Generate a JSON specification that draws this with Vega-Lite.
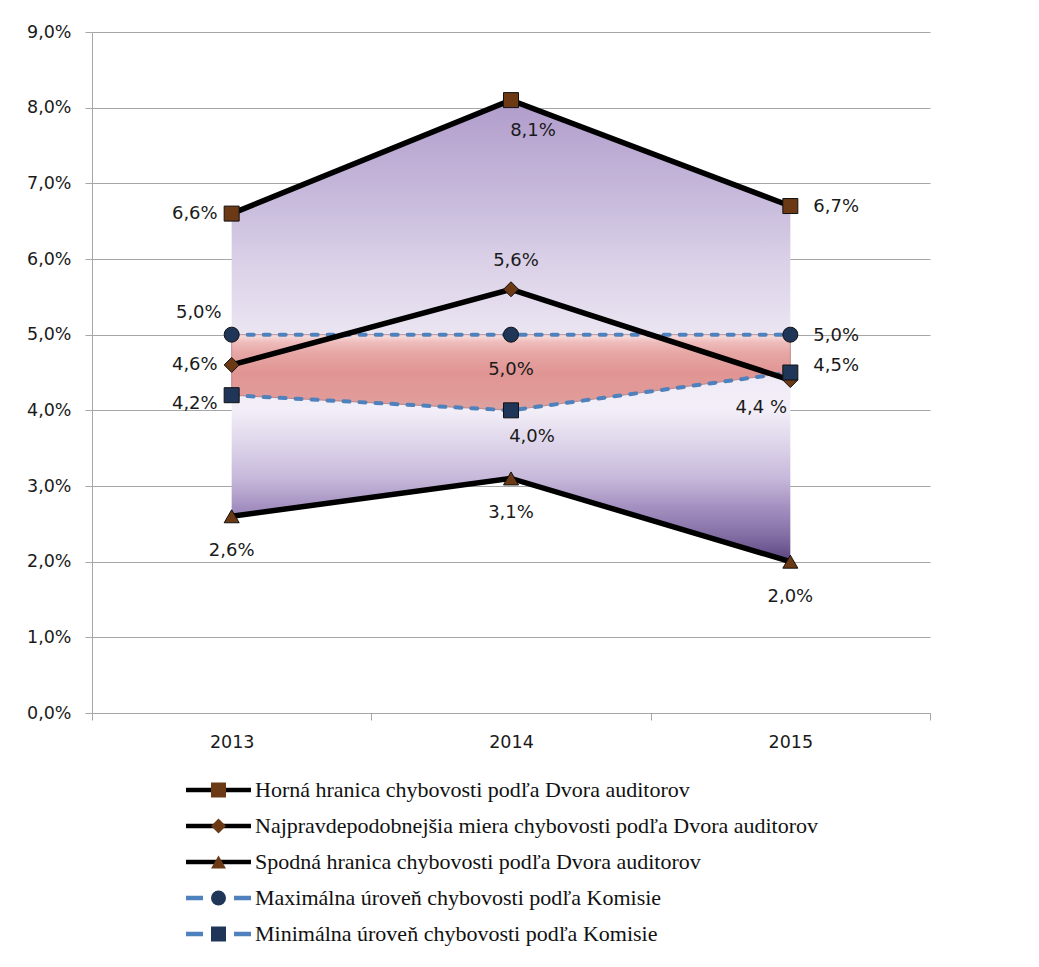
{
  "$schema": "https://vega.github.io/schema/vega-lite/v6.json",
  "width": 838,
  "height": 681,
  "autosize": "none",
  "padding": {"left": 92, "top": 32, "right": 109, "bottom": 254},
  "background": "white",
  "config": {
    "view": {"stroke": null},
    "axis": {"labelFont": "DejaVu Sans", "labelFontSize": 17.5, "labelColor": "#1a1a1a", "domainColor": "#a6a6a6", "tickColor": "#a6a6a6", "gridColor": "#a6a6a6", "tickSize": 7, "title": null},
    "text": {"font": "DejaVu Sans", "fontSize": 18, "color": "#1a1a1a", "baseline": "middle"}
  },
  "datasets": {
    "wide": [
      {"year": "2013", "upper": 6.6, "lower": 2.6, "maxK": 5.0, "minK": 4.2},
      {"year": "2014", "upper": 8.1, "lower": 3.1, "maxK": 5.0, "minK": 4.0},
      {"year": "2015", "upper": 6.7, "lower": 2.0, "maxK": 5.0, "minK": 4.5}
    ],
    "long": [
      {"series": "Horná hranica chybovosti podľa Dvora auditorov", "code": "H", "order": 1, "year": "2013", "value": 6.6, "label": "6,6%"},
      {"series": "Horná hranica chybovosti podľa Dvora auditorov", "code": "H", "order": 1, "year": "2014", "value": 8.1, "label": "8,1%"},
      {"series": "Horná hranica chybovosti podľa Dvora auditorov", "code": "H", "order": 1, "year": "2015", "value": 6.7, "label": "6,7%"},
      {"series": "Najpravdepodobnejšia miera chybovosti podľa Dvora auditorov", "code": "N", "order": 2, "year": "2013", "value": 4.6, "label": "4,6%"},
      {"series": "Najpravdepodobnejšia miera chybovosti podľa Dvora auditorov", "code": "N", "order": 2, "year": "2014", "value": 5.6, "label": "5,6%"},
      {"series": "Najpravdepodobnejšia miera chybovosti podľa Dvora auditorov", "code": "N", "order": 2, "year": "2015", "value": 4.4, "label": "4,4 %"},
      {"series": "Spodná hranica chybovosti podľa Dvora auditorov", "code": "S", "order": 3, "year": "2013", "value": 2.6, "label": "2,6%"},
      {"series": "Spodná hranica chybovosti podľa Dvora auditorov", "code": "S", "order": 3, "year": "2014", "value": 3.1, "label": "3,1%"},
      {"series": "Spodná hranica chybovosti podľa Dvora auditorov", "code": "S", "order": 3, "year": "2015", "value": 2.0, "label": "2,0%"},
      {"series": "Maximálna úroveň chybovosti podľa Komisie", "code": "MX", "order": 4, "year": "2013", "value": 5.0, "label": "5,0%"},
      {"series": "Maximálna úroveň chybovosti podľa Komisie", "code": "MX", "order": 4, "year": "2014", "value": 5.0, "label": "5,0%"},
      {"series": "Maximálna úroveň chybovosti podľa Komisie", "code": "MX", "order": 4, "year": "2015", "value": 5.0, "label": "5,0%"},
      {"series": "Minimálna úroveň chybovosti podľa Komisie", "code": "MN", "order": 5, "year": "2013", "value": 4.2, "label": "4,2%"},
      {"series": "Minimálna úroveň chybovosti podľa Komisie", "code": "MN", "order": 5, "year": "2014", "value": 4.0, "label": "4,0%"},
      {"series": "Minimálna úroveň chybovosti podľa Komisie", "code": "MN", "order": 5, "year": "2015", "value": 4.5, "label": "4,5%"}
    ]
  },
  "encoding": {
    "x": {"field": "year", "type": "ordinal",
      "scale": {"type": "band", "paddingInner": 0, "paddingOuter": 0},
      "axis": {"labelAngle": 0, "tickBand": "extent", "labelPadding": 13, "grid": false}},
    "y": {"type": "quantitative",
      "scale": {"domain": [0, 9], "nice": false},
      "axis": {"values": [0, 1, 2, 3, 4, 5, 6, 7, 8, 9], "grid": true, "labelPadding": 14,
        "labelExpr": "replace(format(datum.value, '.1f'), '.', ',') + '%'"}}
  },
  "layer": [
    {
      "data": {"name": "wide"},
      "mark": {"type": "area", "fill": {"gradient": "linear", "x1": 0, "y1": 0, "x2": 0, "y2": 1,
        "stops": [
          {"offset": 0, "color": "#b09ccb"},
          {"offset": 0.245, "color": "#cbbfde"},
          {"offset": 0.346, "color": "#dad0e7"},
          {"offset": 0.509, "color": "#ebe5f2"},
          {"offset": 0.67, "color": "#f3eff8"},
          {"offset": 0.76, "color": "#d9cfe7"},
          {"offset": 0.82, "color": "#c6b8da"},
          {"offset": 0.88, "color": "#a591c1"},
          {"offset": 0.94, "color": "#8570a6"},
          {"offset": 1, "color": "#594480"}
        ]}},
      "encoding": {"y": {"field": "upper"}, "y2": {"field": "lower"}}
    },
    {
      "data": {"name": "wide"},
      "mark": {"type": "area", "stroke": "#b07a78", "strokeWidth": 0.8, "fill": {"gradient": "linear", "x1": 0, "y1": 0, "x2": 0, "y2": 1,
        "stops": [
          {"offset": 0, "color": "#f7e2e2"},
          {"offset": 0.1, "color": "#eebcbb"},
          {"offset": 0.25, "color": "#e6a6a4"},
          {"offset": 0.5, "color": "#e09593"},
          {"offset": 0.8, "color": "#e19a98"},
          {"offset": 1, "color": "#dba3a1"}
        ]}},
      "encoding": {"y": {"field": "maxK"}, "y2": {"field": "minK"}}
    },
    {
      "data": {"name": "long"},
      "transform": [{"filter": "datum.code == 'MX' || datum.code == 'MN'"}],
      "mark": {"type": "line", "strokeWidth": 4, "strokeDash": [6, 10], "strokeCap": "round"},
      "encoding": {
        "y": {"field": "value"},
        "stroke": {"field": "series", "type": "nominal",
          "scale": {"domain": ["Horná hranica chybovosti podľa Dvora auditorov", "Najpravdepodobnejšia miera chybovosti podľa Dvora auditorov", "Spodná hranica chybovosti podľa Dvora auditorov", "Maximálna úroveň chybovosti podľa Komisie", "Minimálna úroveň chybovosti podľa Komisie"],
            "range": ["#000000", "#000000", "#000000", "#4f81bd", "#4f81bd"]},
          "legend": {"orient": "none", "legendX": 115.5, "legendY": 747, "title": null, "padding": 0,
            "symbolType": "M-4.33,0H4.33", "symbolSize": 225, "symbolStrokeWidth": 4.5, "symbolFillColor": "transparent", "symbolOpacity": 1,
            "labelFont": "Liberation Serif", "labelFontSize": 22, "labelColor": "#111111", "labelOffset": 25.5, "labelLimit": 0,
            "rowPadding": 14, "zindex": 1,
            "encode": {"symbols": {"update": {"strokeDash": {"signal": "indexof(datum.value, 'Komisie') >= 0 ? [17, 31] : [1, 0]"}, "opacity": {"value": 1}}}}}
        }
      }
    },
    {
      "data": {"name": "long"},
      "transform": [{"filter": "datum.code == 'H' || datum.code == 'N' || datum.code == 'S'"}],
      "mark": {"type": "line", "strokeWidth": 5.5},
      "encoding": {
        "y": {"field": "value"},
        "stroke": {"field": "series", "type": "nominal"}
      }
    },
    {
      "data": {"name": "long"},
      "mark": {"type": "point", "filled": true, "size": 225, "stroke": "#111111", "strokeWidth": 1, "opacity": 1},
      "encoding": {
        "y": {"field": "value"},
        "shape": {"field": "series", "type": "nominal", "sort": {"field": "order", "op": "min"},
          "scale": {"range": ["square", "diamond", "triangle-up", "circle", "square"]},
          "legend": {"orient": "none", "legendX": 115.5, "legendY": 747, "title": null, "padding": 0,
            "symbolSize": 225, "labelOpacity": 0, "labelFont": "Liberation Serif", "labelFontSize": 22, "labelOffset": 25.5, "labelLimit": 0,
            "rowPadding": 14, "zindex": 2, "symbolStrokeColor": "#111111", "symbolStrokeWidth": 1, "symbolOpacity": 1}},
        "fill": {"field": "series", "type": "nominal", "sort": {"field": "order", "op": "min"},
          "scale": {"range": ["#6b3a14", "#6b3a14", "#6b3a14", "#1f3659", "#1f3659"]},
          "legend": {"orient": "none", "legendX": 115.5, "legendY": 747, "title": null, "padding": 0,
            "symbolSize": 225, "labelOpacity": 0, "labelFont": "Liberation Serif", "labelFontSize": 22, "labelOffset": 25.5, "labelLimit": 0,
            "rowPadding": 14, "zindex": 2, "symbolStrokeColor": "#111111", "symbolStrokeWidth": 1, "symbolOpacity": 1}}
      }
    },
    {
      "data": {"name": "long"},
      "transform": [{"filter": "datum.year == '2013' && (datum.code == 'H' || datum.code == 'N')"}],
      "mark": {"type": "text", "align": "right", "dx": -14, "dy": 0},
      "encoding": {"y": {"field": "value"}, "text": {"field": "label"}}
    },
    {
      "data": {"name": "long"},
      "transform": [{"filter": "datum.year == '2013' && datum.code == 'MN'"}],
      "mark": {"type": "text", "align": "right", "dx": -14, "dy": 9},
      "encoding": {"y": {"field": "value"}, "text": {"field": "label"}}
    },
    {
      "data": {"name": "long"},
      "transform": [{"filter": "datum.year == '2013' && datum.code == 'MX'"}],
      "mark": {"type": "text", "align": "right", "dx": -10, "dy": -22},
      "encoding": {"y": {"field": "value"}, "text": {"field": "label"}}
    },
    {
      "data": {"name": "long"},
      "transform": [{"filter": "datum.year == '2015' && (datum.code == 'H' || datum.code == 'MX')"}],
      "mark": {"type": "text", "align": "left", "dx": 23, "dy": 1},
      "encoding": {"y": {"field": "value"}, "text": {"field": "label"}}
    },
    {
      "data": {"name": "long"},
      "transform": [{"filter": "datum.year == '2015' && datum.code == 'MN'"}],
      "mark": {"type": "text", "align": "left", "dx": 23, "dy": -7},
      "encoding": {"y": {"field": "value"}, "text": {"field": "label"}}
    },
    {
      "data": {"name": "long"},
      "transform": [{"filter": "datum.code == 'S' || (datum.year == '2014' && datum.code == 'MX')"}],
      "mark": {"type": "text", "align": "center", "dx": 0, "dy": 35},
      "encoding": {"y": {"field": "value"}, "text": {"field": "label"}}
    },
    {
      "data": {"name": "long"},
      "transform": [{"filter": "datum.year == '2014' && datum.code == 'H'"}],
      "mark": {"type": "text", "align": "center", "dx": 22, "dy": 31},
      "encoding": {"y": {"field": "value"}, "text": {"field": "label"}}
    },
    {
      "data": {"name": "long"},
      "transform": [{"filter": "datum.year == '2014' && datum.code == 'MN'"}],
      "mark": {"type": "text", "align": "center", "dx": 21, "dy": 27},
      "encoding": {"y": {"field": "value"}, "text": {"field": "label"}}
    },
    {
      "data": {"name": "long"},
      "transform": [{"filter": "datum.year == '2014' && datum.code == 'N'"}],
      "mark": {"type": "text", "align": "center", "dx": 5, "dy": -28},
      "encoding": {"y": {"field": "value"}, "text": {"field": "label"}}
    },
    {
      "data": {"name": "long"},
      "transform": [{"filter": "datum.year == '2015' && datum.code == 'N'"}],
      "mark": {"type": "text", "align": "center", "dx": -29, "dy": 28},
      "encoding": {"y": {"field": "value"}, "text": {"field": "label"}}
    }
  ]
}
